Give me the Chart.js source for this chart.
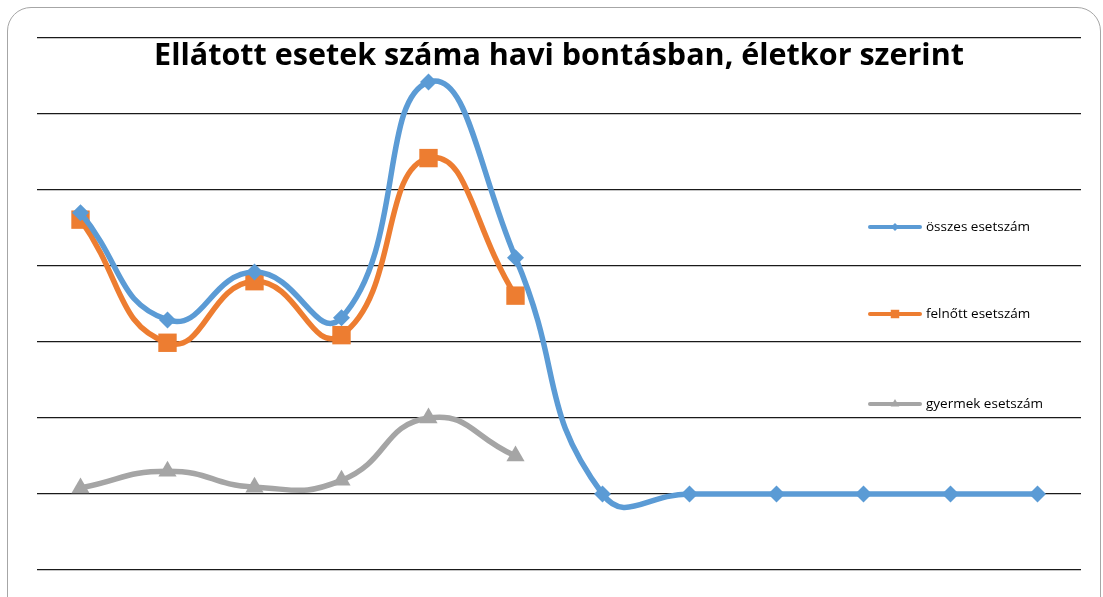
<!DOCTYPE html>
<html>
<head>
<meta charset="utf-8">
<script src="https://cdn.jsdelivr.net/npm/chart.js@4.4.0/dist/chart.umd.min.js"></script>
<style>
body { margin: 0; background: #fff; }
#keret { position: absolute; left: 7px; top: 7px; width: 1092px; height: 620px; border: 1.5px solid #a6a6a6; border-radius: 24px; }
#doboz { position: absolute; left: 0; top: 0; width: 1103px; height: 597px; }
</style>
</head>
<body>
<div id="keret"></div>
<div id="doboz"><canvas id="canvas1"></canvas></div>
<script>
var honapok = ["1", "2", "3", "4", "5", "6", "7", "8", "9", "10", "11", "12"];
var osszes = [370, 229, 292, 232, 542, 311, 0, 0, 0, 0, 0, 0];
var felnott = [361, 199, 280, 209, 442, 261];
var gyermek = [8, 30, 9, 18, 100, 50];
var cim = "Ellátott esetek száma havi bontásban, életkor szerint";

var kek = '#5B9BD5', narancs = '#ED7D31', szurke = '#A5A5A5';

// cím és jelmagyarázat a rajzterületre rajzolva
var sajatRajz = {
    id: 'sajatRajz',
    afterDraw: function(chart) {
        var c = chart.ctx;
        c.save();
        c.fillStyle = '#000';
        c.font = 'bold 30.5px "Open Sans"';
        c.textAlign = 'center';
        c.textBaseline = 'alphabetic';
        c.fillText(cim, 559, 65);

        var sorok = [
            {t: 'összes esetszám', szin: kek, pont: 'rectRot', r: 4, y: 227},
            {t: 'felnőtt esetszám', szin: narancs, pont: 'rect', r: 6, y: 314},
            {t: 'gyermek esetszám', szin: szurke, pont: 'triangle', r: 5, y: 404}
        ];
        c.font = '13.5px "Open Sans"';
        c.textAlign = 'left';
        c.textBaseline = 'middle';
        sorok.forEach(function(s) {
            c.strokeStyle = s.szin;
            c.lineWidth = 4;
            c.lineCap = 'round';
            c.beginPath();
            c.moveTo(870, s.y);
            c.lineTo(920, s.y);
            c.stroke();
            c.fillStyle = s.szin;
            Chart.helpers.drawPoint(c, {pointStyle: s.pont, radius: s.r, borderWidth: 0}, 895, s.y);
            c.fillStyle = '#000';
            c.fillText(s.t, 926, s.y);
        });
        c.restore();
    }
};

var ctx = document.getElementById('canvas1').getContext('2d');
var grafikon = new Chart(ctx, {
    type: 'line',
    data: {
        labels: honapok,
        datasets: [{
            label: 'összes esetszám',
            data: osszes,
            borderColor: kek,
            backgroundColor: kek,
            borderWidth: 5.5,
            pointStyle: 'rectRot',
            pointRadius: 8.5,
            pointBorderWidth: 0,
            tension: 0.5
        }, {
            label: 'felnőtt esetszám',
            data: felnott,
            borderColor: narancs,
            backgroundColor: narancs,
            borderWidth: 5.5,
            pointStyle: 'rect',
            pointRadius: 13,
            pointBorderWidth: 0,
            tension: 0.5
        }, {
            label: 'gyermek esetszám',
            data: gyermek,
            borderColor: szurke,
            backgroundColor: szurke,
            borderWidth: 5.5,
            pointStyle: 'triangle',
            pointRadius: 10.5,
            pointBorderWidth: 0,
            tension: 0.5
        }]
    },
    options: {
        responsive: true,
        maintainAspectRatio: false,
        animation: false,
        layout: { padding: { left: 37, right: 22, top: 38, bottom: 27 } },
        plugins: {
            legend: { display: false },
            title: { display: false },
            tooltip: { enabled: false }
        },
        scales: {
            x: { display: false, offset: true },
            y: {
                min: -100,
                max: 600,
                ticks: { display: false, stepSize: 100 },
                border: { display: false },
                grid: { color: '#1a1a1a', lineWidth: 1.2, drawTicks: false }
            }
        }
    },
    plugins: [sajatRajz]
});
</script>
</body>
</html>
